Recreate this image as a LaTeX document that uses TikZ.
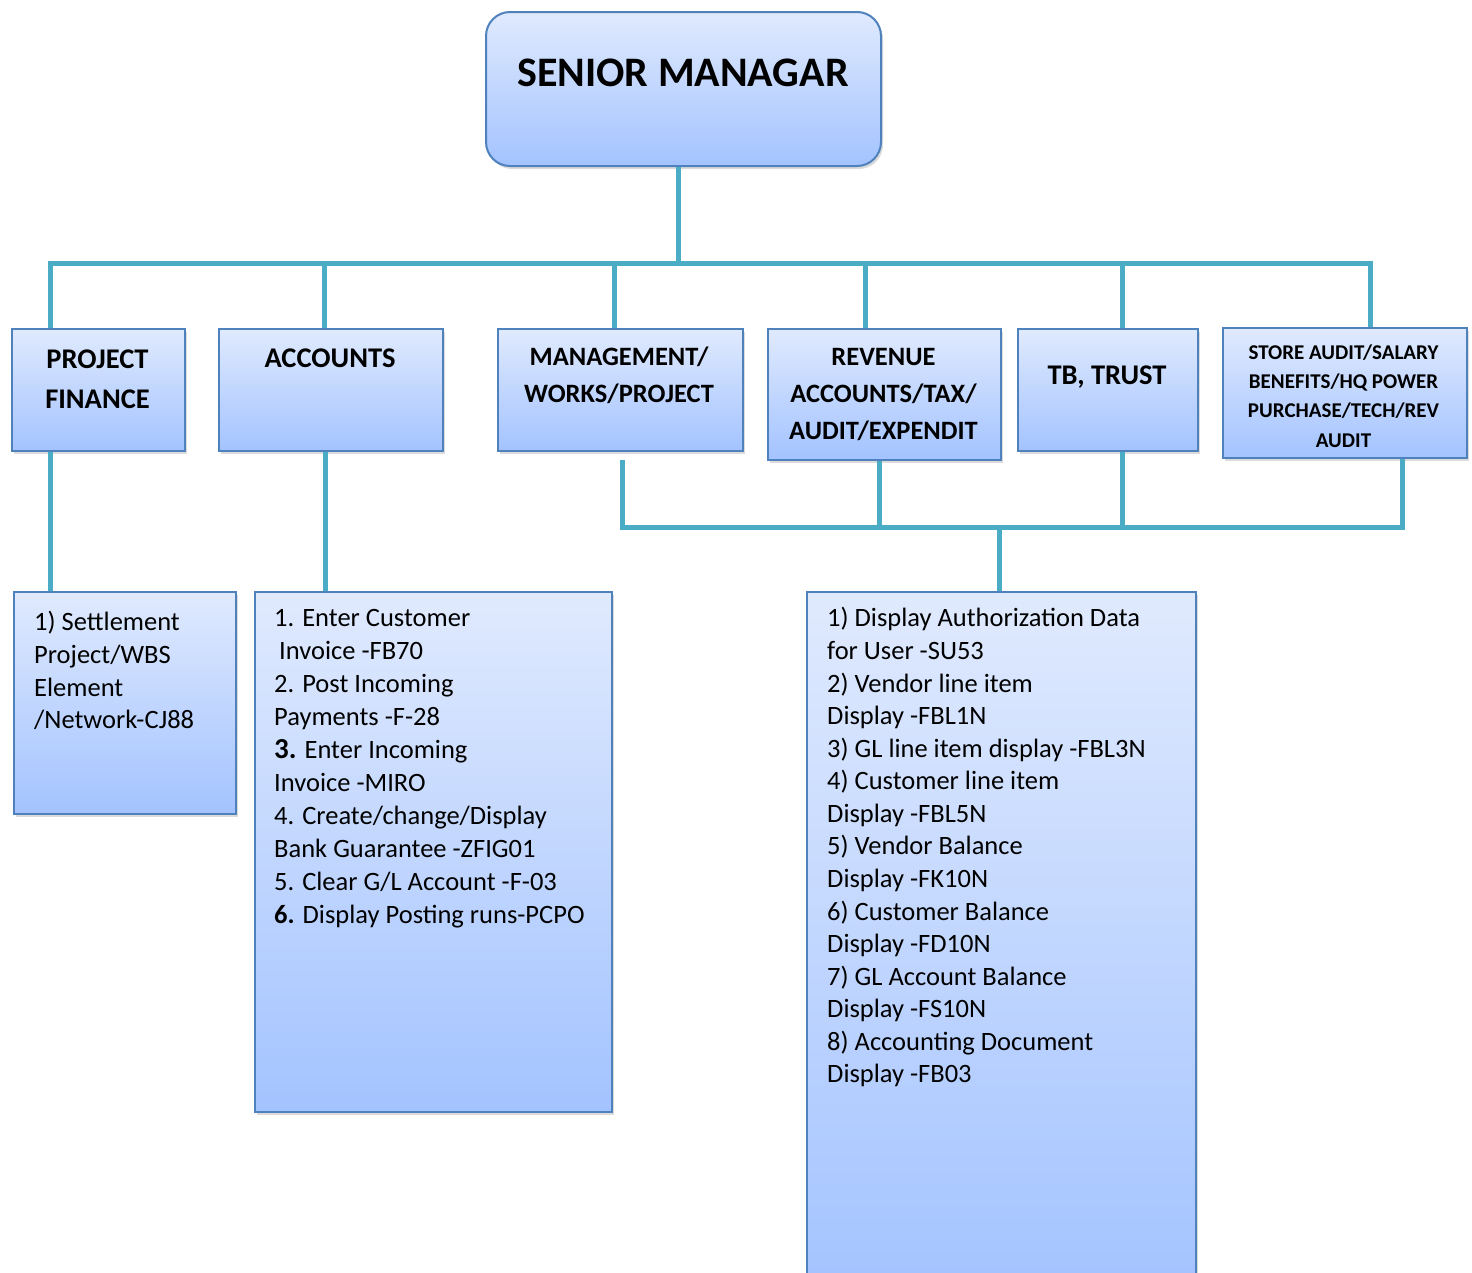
\documentclass[tikz,border=0pt]{standalone}
\usepackage{fontspec}
\setmainfont{Carlito}
\usetikzlibrary{shadows}
\definecolor{conncol}{RGB}{75,172,198}
\definecolor{boxline}{RGB}{79,129,189}
\definecolor{boxtop}{RGB}{224,234,254}
\definecolor{boxbot}{RGB}{163,195,255}
\newcommand\fstrut{\rule{0pt}{30pt}}
\tikzset{
  boxstyle/.style={draw=boxline, line width=2pt, top color=boxtop, bottom color=boxbot,
    anchor=north west, inner sep=0pt,
    drop shadow={shadow xshift=2pt, shadow yshift=-3pt, opacity=0.28}},
  conn/.style={draw=conncol, line width=5pt},
  hdA/.style={anchor=north, align=center, inner sep=0pt, font=\bfseries\fontsize{28.5}{40}\selectfont},
  hdB/.style={anchor=north, align=center, inner sep=0pt, font=\bfseries\fontsize{26.5}{37.2}\selectfont},
  hdC/.style={anchor=north, align=center, inner sep=0pt, font=\bfseries\fontsize{21}{29.2}\selectfont},
  listA/.style={anchor=north west, align=left, inner sep=0pt, font=\fontsize{26.5}{32.7}\selectfont},
  listB/.style={anchor=north west, align=left, inner sep=0pt, font=\fontsize{26.5}{33}\selectfont},
  listC/.style={anchor=north west, align=left, inner sep=0pt, font=\fontsize{26.5}{32.57}\selectfont},
}
\begin{document}
\begin{tikzpicture}[x=1pt, y=-1pt]
\useasboundingbox[fill=white] (0,0) rectangle (1472,1272);
\clip (0,0) rectangle (1472,1272);

% top box
\node[boxstyle, rounded corners=24pt, minimum width=395pt, minimum height=154pt] (sm) at (485,11) {};
\node[anchor=north, inner sep=0pt, font=\bfseries\fontsize{42}{50}\selectfont] (smt) at (683,86-30) {\fstrut SENIOR MANAGAR};

% level 2 boxes
\node[boxstyle, minimum width=173pt, minimum height=122pt] (pf) at (11,328) {};
\node[boxstyle, minimum width=224pt, minimum height=122pt] (acc) at (218,328) {};
\node[boxstyle, minimum width=245pt, minimum height=122pt] (mg) at (497,328) {};
\node[boxstyle, minimum width=233pt, minimum height=131pt] (rev) at (767,328) {};
\node[boxstyle, minimum width=180pt, minimum height=122pt] (tb) at (1017,328) {};
\node[boxstyle, minimum width=244pt, minimum height=130pt] (st) at (1222,327) {};

\node[hdA] (pft) at (97.5,368-30) {\fstrut PROJECT\\FINANCE};
\node[hdA] (acct) at (330,367-30) {\fstrut ACCOUNTS};
\node[hdB] (mgt) at (619,365-30) {\fstrut MANAGEMENT/\\WORKS/PROJECT};
\node[hdB] (revt) at (883.5,365-30) {\fstrut REVENUE\\ACCOUNTS/TAX/\\AUDIT/EXPENDIT};
\node[hdA] (tbt) at (1107,384-30) {\fstrut TB, TRUST};
\node[hdC] (stt) at (1343.5,359.3-30) {\fstrut STORE AUDIT/SALARY\\BENEFITS/HQ POWER\\PURCHASE/TECH/REV\\AUDIT};

% level 3 boxes
\node[boxstyle, minimum width=222pt, minimum height=222pt] (la) at (13,591) {};
\node[boxstyle, minimum width=357pt, minimum height=520pt] (lb) at (254,591) {};
\node[boxstyle, minimum width=389pt, minimum height=700pt] (lc) at (806,591) {};

\node[listA] (lat) at (34,630.5-30) {\fstrut 1) Settlement\\Project/WBS\\Element\\/Network-CJ88};
\node[listB] (lbt) at (274,626.7-30) {\fstrut 1. Enter Customer\\\hspace*{5pt}Invoice -FB70\\2. Post Incoming\\Payments -F-28\\{\fontsize{29}{33}\selectfont\bfseries 3.} Enter Incoming\\Invoice -MIRO\\4. Create/change/Display\\Bank Guarantee -ZFIG01\\5. Clear G/L Account -F-03\\\textbf{6.} Display Posting runs-PCPO};
\node[listC] (lct) at (827,626.7-30) {\fstrut 1) Display Authorization Data\\for User -SU53\\2) Vendor line item\\Display -FBL1N\\3) GL line item display -FBL3N\\4) Customer line item\\Display -FBL5N\\5) Vendor Balance\\Display -FK10N\\6) Customer Balance\\Display -FD10N\\7) GL Account Balance\\Display -FS10N\\8) Accounting Document\\Display -FB03};

% connectors: upper tree
\coordinate (busL) at (50,263);
\coordinate (busR) at (1370,263);
\coordinate (smj) at (678,263);
\draw[conn] (smj |- sm.south) -- (smj);
\draw[conn, line cap=rect] (busL) -- (busR);
\draw[conn] (busL) -- (busL |- pf.north);
\draw[conn] (324,263) -- (324,0 |- acc.north);
\draw[conn] (614,263) -- (614,0 |- mg.north);
\draw[conn] (865,263) -- (865,0 |- rev.north);
\draw[conn] (1122,263) -- (1122,0 |- tb.north);
\draw[conn] (busR) -- (busR |- st.north);

% left branches
\draw[conn] (busL |- pf.south) -- (busL |- la.north);
\draw[conn] (325,0 |- acc.south) -- (325,0 |- lb.north);

% lower bus
\coordinate (lbL) at (622,527);
\coordinate (lbR) at (1402,527);
\coordinate (lbC) at (999,527);
\draw[conn, line cap=rect] (lbL) -- (lbR);
\draw[conn] (622,460) -- (lbL);
\draw[conn] (879,0 |- rev.south) -- (879,527);
\draw[conn] (1122,0 |- tb.south) -- (1122,527);
\draw[conn] (1402,0 |- st.south) -- (lbR);
\draw[conn] (lbC) -- (lbC |- lc.north);
\end{tikzpicture}
\end{document}
